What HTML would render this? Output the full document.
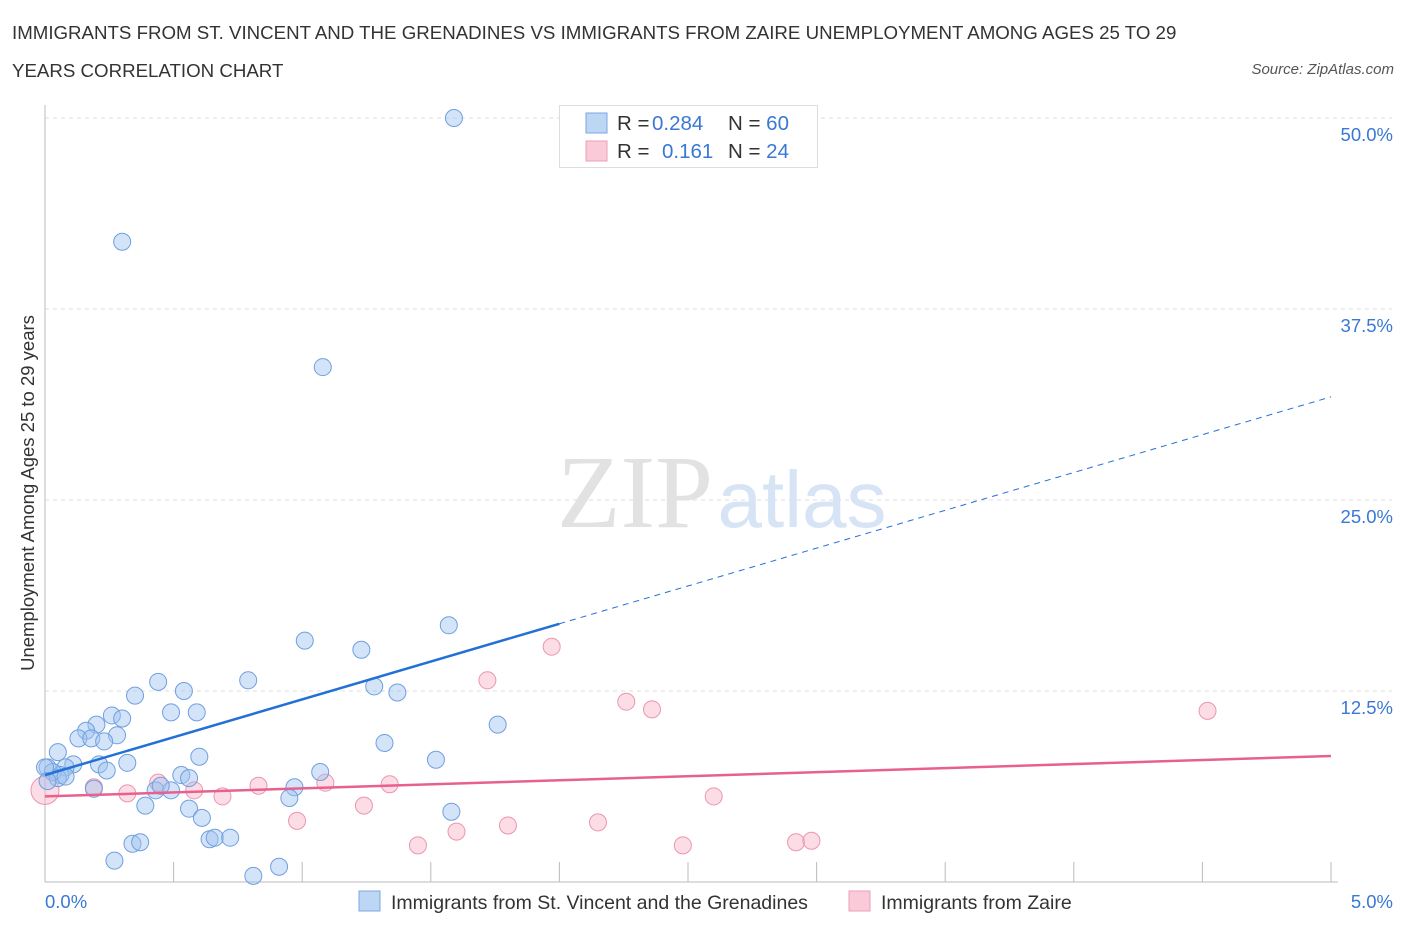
<!DOCTYPE html>
<html><head><meta charset="utf-8">
<style>
body{margin:0;background:#fff;font-family:"Liberation Sans",sans-serif;}
#wrap{position:relative;width:1406px;height:930px;overflow:hidden;}
.t{position:absolute;color:#333;font-size:18.7px;}
</style></head><body>
<div id="wrap">
<div class="t" style="left:12px;top:22px;">IMMIGRANTS FROM ST. VINCENT AND THE GRENADINES VS IMMIGRANTS FROM ZAIRE UNEMPLOYMENT AMONG AGES 25 TO 29</div>
<div class="t" style="left:12px;top:60px;">YEARS CORRELATION CHART</div>
<div class="t" style="right:12px;top:61px;font-size:15px;font-style:italic;color:#555;">Source: ZipAtlas.com</div>
<svg id="svg" width="1406" height="930" style="position:absolute;left:0;top:0"></svg>
</div>
<script>
const xTicks=[0,0.5,1,1.5,2,2.5,3,3.5,4,4.5,5];
const yTicks=[12.5,25,37.5,50];
const yTickLabels=["12.5%","25.0%","37.5%","50.0%"];
const blueX=[1.59,0.30,1.08,1.57,1.01,1.23,0.44,0.54,0.79,0.35,1.28,1.37,0.49,0.59,0.26,0.30,0.20,0.16,0.28,0.13,0.18,0.23,1.76,1.32,0.05,0.60,1.52,0.32,0.11,0.21,0.08,0.01,0.24,0.06,0.03,0.53,0.56,1.07,0.43,0.49,0.97,0.19,0.95,0.39,0.56,0.61,1.58,0.64,0.66,0.72,0.34,0.37,0.27,0.91,0.81,0.05,0.08,0.45,0.0,0.01];
const blueY=[50.0,41.9,33.7,16.8,15.8,15.2,13.1,12.5,13.2,12.2,12.8,12.4,11.1,11.1,10.9,10.7,10.3,9.9,9.6,9.4,9.4,9.2,10.3,9.1,8.5,8.2,8.0,7.8,7.7,7.7,7.5,7.5,7.3,7.0,7.2,7.0,6.8,7.2,6.0,6.0,6.2,6.1,5.5,5.0,4.8,4.2,4.6,2.8,2.9,2.9,2.5,2.6,1.4,1.0,0.4,6.8,6.9,6.3,7.5,6.6];
const pinkX=[0.0,1.97,1.72,2.26,2.36,4.52,0.44,0.19,0.32,0.58,0.69,0.83,1.09,1.34,1.24,2.60,0.98,1.60,1.80,2.15,1.45,2.48,2.92,2.98];
const pinkY=[6.0,15.4,13.2,11.8,11.3,11.2,6.5,6.2,5.8,6.0,5.6,6.3,6.5,6.4,5.0,5.6,4.0,3.3,3.7,3.9,2.4,2.4,2.6,2.7];
const blueTrend=[7.0,4.95]; // intercept, slope
const pinkTrend=[5.6,0.53];
const sx=v=>45+v*257.2, sy=v=>882-v*15.28;
const svg=document.getElementById('svg');const NS='http://www.w3.org/2000/svg';
function mk(tag,a,p){const e=document.createElementNS(NS,tag);for(const k in a)e.setAttribute(k,a[k]);(p||svg).appendChild(e);return e;}
yTicks.forEach((v,i)=>{
 const g=mk('line',{x1:45,x2:1392,y1:sy(v),y2:sy(v),stroke:'#ddd','stroke-dasharray':'4,4'});
 
 
 const t=mk('text',{x:1393,y:sy(v)+23,'text-anchor':'end','font-size':18.5,fill:'#3a78d4','font-family':'Liberation Sans'});
 t.textContent=yTickLabels[i];
 
 
});
const wm=mk('text',{x:635,y:527,'text-anchor':'middle','font-size':104,fill:'#e2e2e2','font-family':'Liberation Serif'});wm.textContent='ZIP';


const wm2=mk('text',{x:802,y:527,'text-anchor':'middle','font-size':80,fill:'#d6e4f5','font-family':'Liberation Sans'});wm2.textContent='atlas';


const ax=mk('line',{x1:45,x2:45,y1:105,y2:882,stroke:'#bbb'});


const bx=mk('line',{x1:45,x2:1338,y1:882,y2:882,stroke:'#bbb'});


xTicks.forEach(v=>{const l=mk('line',{x1:sx(v),x2:sx(v),y1:862,y2:882,stroke:'#bbb'});
 
 });
[['0.0%',45,'start'],['5.0%',1393,'end']].forEach(([s,x,a])=>{const t=mk('text',{x:x,y:908,'text-anchor':a,'font-size':18.5,fill:'#3a78d4','font-family':'Liberation Sans'});t.textContent=s;
 
 });
const yt=mk('text',{transform:'translate(34,493) rotate(-90)','text-anchor':'middle','font-size':18.5,fill:'#333','font-family':'Liberation Sans'});yt.textContent='Unemployment Among Ages 25 to 29 years';


pinkX.forEach((x,i)=>{const c=mk('circle',{cx:sx(x),cy:sy(pinkY[i]),r:i==0?14:8.5,fill:'rgba(248,180,200,0.45)',stroke:'#eb95ae','stroke-width':1});
 
 });
blueX.forEach((x,i)=>{const c=mk('circle',{cx:sx(x),cy:sy(blueY[i]),r:8.5,fill:'rgba(160,196,240,0.45)',stroke:'#6f9fe0','stroke-width':1});
 
 });
const bt=mk('line',{x1:sx(0),y1:sy(blueTrend[0]),x2:sx(2),y2:sy(blueTrend[0]+2*blueTrend[1]),stroke:'#2370d6','stroke-width':2.5});


const bd=mk('line',{x1:sx(2),y1:sy(blueTrend[0]+2*blueTrend[1]),x2:sx(5),y2:sy(blueTrend[0]+5*blueTrend[1]),stroke:'#2370d6','stroke-width':1,'stroke-dasharray':'6,5'});


const pt=mk('line',{x1:sx(0),y1:sy(pinkTrend[0]),x2:sx(5),y2:sy(pinkTrend[0]+5*pinkTrend[1]),stroke:'#e8608e','stroke-width':2.5});


const lg=mk('rect',{x:559.5,y:105.5,width:258,height:62,fill:'#fff',stroke:'#ddd'});


[[123,'rgba(160,196,240,0.7)','#7aa8e4','0.284','60',652],[151,'rgba(248,180,200,0.7)','#eb9fb6','0.161','24',662]].forEach(([y,f,s,r,n,rx])=>{
 const sw=mk('rect',{x:586,y:y-10,width:21,height:20,fill:f,stroke:s});
 
 
 const t=mk('text',{x:617,y:y+7,'font-size':20.5,fill:'#333','font-family':'Liberation Sans'});
 t.innerHTML='R = <tspan x="'+rx+'" fill="#3a78d4">'+r+'</tspan><tspan x="728" fill="#333">N = </tspan><tspan fill="#3a78d4">'+n+'</tspan>';
 
 
});
[[359,'rgba(160,196,240,0.7)','#7aa8e4','Immigrants from St. Vincent and the Grenadines',391],[849,'rgba(248,180,200,0.7)','#eb9fb6','Immigrants from Zaire',881]].forEach(([x,f,s,l,tx])=>{
 const sw=mk('rect',{x:x,y:891,width:21,height:20,fill:f,stroke:s});
 
 
 const t=mk('text',{x:tx,y:909,'font-size':19.5,fill:'#333','font-family':'Liberation Sans'});t.textContent=l;
 
 
});
</script>
</body></html>
